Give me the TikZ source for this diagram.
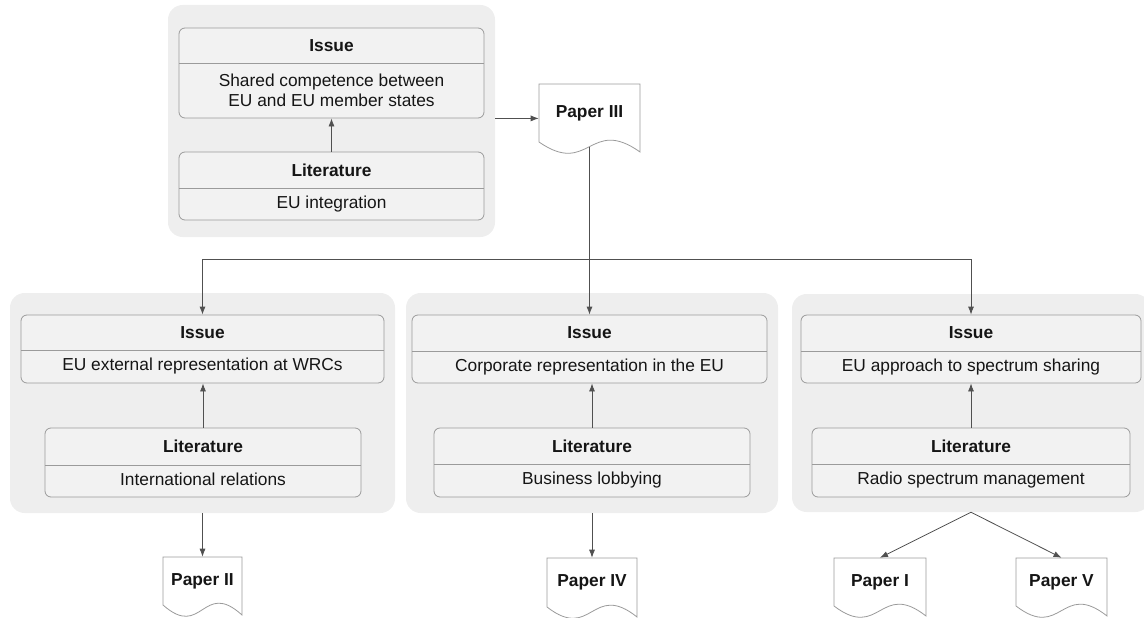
\documentclass[tikz,border=0pt]{standalone}
\usepackage{fontspec}
\setmainfont{Liberation Sans}
\usetikzlibrary{calc,arrows.meta}
\definecolor{bggray}{HTML}{EEEEEE}
\definecolor{boxfill}{HTML}{F2F2F2}
\definecolor{boxline}{HTML}{9B9B9B}
\definecolor{conncol}{HTML}{505050}
\definecolor{txt}{HTML}{151515}
\tikzset{
  bgbox/.style={draw=none, fill=bggray, rounded corners=11pt, inner sep=0pt},
  ibox/.style={draw=boxline, fill=boxfill, rounded corners=4.5pt, line width=0.6pt, inner sep=0pt},
  divline/.style={draw=boxline, line width=0.6pt},
  hdr/.style={font=\fontsize{13}{15.5}\selectfont\bfseries, text=txt, inner sep=0pt},
  bdy/.style={font=\fontsize{13}{15.5}\selectfont, text=txt, inner sep=0pt, text height=9.4pt, text depth=2.7pt},
  bdytwo/.style={font=\fontsize{13}{15}\selectfont, text=txt, inner sep=0pt, align=center},
  paper/.style={inner sep=0pt, font=\fontsize{13}{15.5}\selectfont\bfseries, text=txt},
  paperline/.style={draw=boxline, fill=white, line width=0.6pt},
  connline/.style={draw=conncol, line width=0.6pt},
  arr/.style={connline, -{Latex[length=6pt,width=4.5pt]}},
}
% background group: name, x1, y1, x2, y2
\newcommand{\groupbg}[5]{%
  \node[bgbox, minimum width={(#4-#2)*0.75pt}, minimum height={(#5-#3)*0.75pt}] (#1) at ({(#2+#4)/2},{(#3+#5)/2}) {};
}
% category box: name, x1, y1, x2, y2, ydiv, header, body, body style
\newcommand{\catbox}[9]{%
  \node[ibox, minimum width={(#4-#2)*0.75pt}, minimum height={(#5-#3)*0.75pt}] (#1) at ({(#2+#4)/2},{(#3+#5)/2}) {};
  \draw[divline] (#2,#6) -- (#4,#6);
  \node[hdr] (#1h) at ({(#2+#4)/2},{(#3+#6)/2}) {#7};
  \node[#9] (#1b) at ({(#2+#4)/2},{(#6+#5)/2}) {#8};
}
% paper document: name, x1, y1, x2, y2 (left bottom), text
\newcommand{\paperdoc}[6]{%
  \draw[paperline] (#2,#5) -- (#2,#3) -- (#4,#3) -- (#4,{#5+10})
     .. controls ({(#2+#4)/2},{#5-26}) and ({(#2+#4)/2},{#5+35}) .. (#2,#5) -- cycle;
  \node[paper, minimum width={(#4-#2)*0.75pt}, minimum height={(#5-#3)*0.75pt}] (#1) at ({(#2+#4)/2},{(#3+#5)/2}) {#6};
}
\begin{document}
\begin{tikzpicture}[x=0.75pt,y=-0.75pt]
\useasboundingbox (0,0) rectangle (1144,617);
\clip (0,0) rectangle (1144,617);

% backgrounds
\groupbg{g0}{168}{5}{495}{237}
\groupbg{g1}{10}{293}{395}{513}
\groupbg{g2}{406}{293}{778}{513}
\groupbg{g3}{792}{294}{1150}{512}

% boxes
\catbox{i0}{179}{28}{484}{118}{63}{Issue}{Shared competence between\\ EU and EU member states}{bdytwo}
\catbox{l0}{179}{152}{484}{220}{188}{Literature}{EU integration}{bdy}

\catbox{i1}{21}{315}{384}{383}{350}{Issue}{EU external representation at WRCs}{bdy}
\catbox{l1}{45}{428}{361}{497}{465}{Literature}{International relations}{bdy}

\catbox{i2}{412}{315}{767}{383}{351}{Issue}{Corporate representation in the EU}{bdy}
\catbox{l2}{434}{428}{750}{497}{464}{Literature}{Business lobbying}{bdy}

\catbox{i3}{801}{315}{1141}{383}{351}{Issue}{EU approach to spectrum sharing}{bdy}
\catbox{l3}{812}{428}{1130}{497}{464}{Literature}{Radio spectrum management}{bdy}

% papers
\paperdoc{p3}{539}{84}{640}{142}{Paper III}
\paperdoc{p2}{163}{557}{242}{605}{Paper II}
\paperdoc{p4}{547}{558}{637}{607}{Paper IV}
\paperdoc{p1}{834}{558}{926}{606}{Paper I}
\paperdoc{p5}{1016}{558}{1107}{606}{Paper V}

% connectors
\draw[arr] (l0.north) -- (l0.north |- i0.south);
\draw[arr] (l1.north) -- (l1.north |- i1.south);
\draw[arr] (l2.north) -- (l2.north |- i2.south);
\draw[arr] (l3.north) -- (l3.north |- i3.south);

\draw[arr] (g0.east |- i0.south) -- (p3.west |- i0.south);

\coordinate (p3b) at ($(p3.south)+(0,5)$);
\coordinate (bus) at (0,259);
\draw[arr] (p3b) -- (p3b |- i2.north);
\draw[connline] (i1.north |- bus) -- (i3.north |- bus);
\draw[arr] (i1.north |- bus) -- (i1.north);
\draw[arr] (i3.north |- bus) -- (i3.north);

\draw[arr] (g1.south) -- (p2.north);
\draw[arr] (g2.south) -- (p4.north);
\draw[arr] (g3.south) -- (p1.north);
\draw[arr] (g3.south) -- (p5.north);
\end{tikzpicture}
\end{document}
